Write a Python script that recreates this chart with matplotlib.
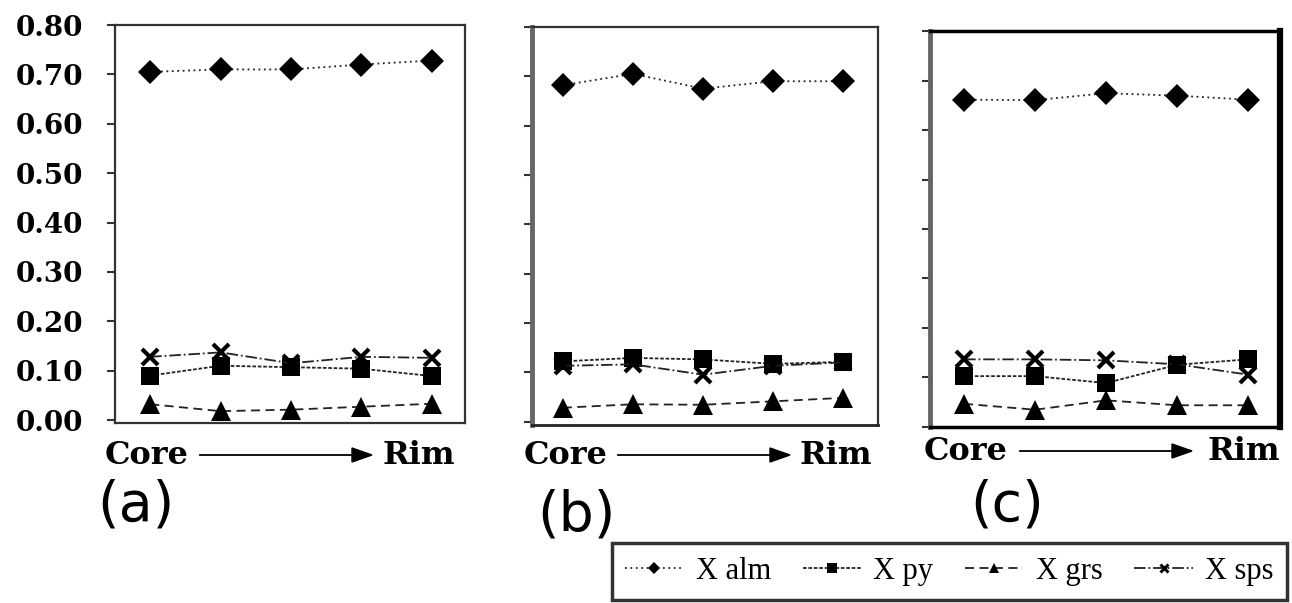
import numpy as np
import matplotlib.pyplot as plt
from matplotlib.lines import Line2D

W, H = 1292, 603

points = np.arange(5)  # analysis points, core -> rim

# panel (a)
alm_a = [0.705, 0.710, 0.710, 0.720, 0.728]
py_a = [0.090, 0.110, 0.107, 0.104, 0.089]
grs_a = [0.032, 0.018, 0.021, 0.027, 0.033]
sps_a = [0.128, 0.137, 0.115, 0.128, 0.126]

# panel (b)
alm_b = [0.682, 0.705, 0.675, 0.690, 0.690]
py_b = [0.122, 0.129, 0.126, 0.117, 0.121]
grs_b = [0.028, 0.035, 0.034, 0.041, 0.048]
sps_b = [0.113, 0.116, 0.095, 0.113, 0.120]

# panel (c)
alm_c = [0.662, 0.661, 0.675, 0.670, 0.662]
py_c = [0.102, 0.102, 0.088, 0.125, 0.136]
grs_c = [0.046, 0.034, 0.053, 0.043, 0.043]
sps_c = [0.136, 0.136, 0.134, 0.126, 0.105]

y_ticks = [0.0, 0.1, 0.2, 0.3, 0.4, 0.5, 0.6, 0.7, 0.8]
y_ticklabels = ['0.00', '0.10', '0.20', '0.30', '0.40', '0.50', '0.60', '0.70', '0.80']

series_names = ['X alm', 'X py', 'X grs', 'X sps']
STYLES = {
    'X alm': dict(marker='D', ms=12, ls=(0, (1, 2)), mew=0),
    'X py': dict(marker='s', ms=13, ls=(0, (2, 1)), mew=0),
    'X grs': dict(marker='^', ms=14, ls=(0, (5, 3)), mew=0),
    'X sps': dict(marker='x', ms=11, ls='-.', mew=3),
}

fig = plt.figure(figsize=(W / 100, H / 100), dpi=100)


def px_axes(left, top, right, bottom):
    return fig.add_axes([left / W, 1 - bottom / H, (right - left) / W, (bottom - top) / H])


def draw_panel(box, xlim, ylim, data, show_labels, spines):
    ax = px_axes(*box)
    for name, vals in zip(series_names, data):
        st = STYLES[name]
        ax.plot(points, vals, color='#222222', lw=1.3, ls=st['ls'],
                marker=st['marker'], ms=st['ms'], mfc='black', mec='black',
                mew=st['mew'])
    ax.set_xlim(*xlim)
    ax.set_ylim(*ylim)
    ax.set_xticks([])
    ax.set_yticks(y_ticks)
    ax.tick_params(axis='y', direction='out', length=6, width=1.5, color='#333333', pad=17)
    if show_labels:
        ax.set_yticklabels(y_ticklabels, family='DejaVu Serif', weight='bold', fontsize=20)
    else:
        ax.set_yticklabels([])
    for side, (lw, col) in spines.items():
        ax.spines[side].set_linewidth(lw)
        ax.spines[side].set_color(col)
    return ax


thin = (1.6, '#333333')
draw_panel((115, 25, 465, 423), (-0.50, 4.47), (-0.006, 0.80),
           [alm_a, py_a, grs_a, sps_a], True,
           {'left': thin, 'right': thin, 'top': thin, 'bottom': thin})
draw_panel((532, 27, 878, 425), (-0.44, 4.50), (-0.007, 0.797),
           [alm_b, py_b, grs_b, sps_b], False,
           {'left': (3.5, '#666666'), 'right': thin, 'top': thin, 'bottom': (2, '#222222')})
draw_panel((930, 31, 1280, 427), (-0.48, 4.45), (-0.001, 0.801),
           [alm_c, py_c, grs_c, sps_c], False,
           {'left': (3.5, '#666666'), 'right': (4.5, 'black'), 'top': (2.5, 'black'),
            'bottom': (2.5, 'black')})


def core_rim(core_x, a0, a1, rim_x, y):
    fy = 1 - y / H
    fig.text(core_x / W, fy, 'Core', family='DejaVu Serif', weight='bold',
             fontsize=23, ha='left', va='center')
    fig.text(rim_x / W, fy, 'Rim', family='DejaVu Serif', weight='bold',
             fontsize=23, ha='right', va='center')
    fig.add_artist(plt.Line2D([a0 / W, (a1 - 18) / W], [fy, fy], color='black', lw=1.3))
    fig.patches.append(plt.Polygon([[(a1 - 20) / W, fy + 7 / H], [a1 / W, fy],
                                    [(a1 - 20) / W, fy - 7 / H]], closed=True,
                                   color='black', transform=fig.transFigure))


core_rim(105, 200, 372, 455, 455)
core_rim(524, 618, 790, 872, 455)
core_rim(924, 1020, 1192, 1280, 451)

for label, x, y in [('(a)', 136, 505), ('(b)', 576, 516), ('(c)', 1007, 505)]:
    fig.text(x / W, 1 - y / H, label, family='DejaVu Sans', fontsize=40,
             ha='center', va='center')

handles = []
for name in series_names:
    st = STYLES[name]
    handles.append(Line2D([], [], color='#222222', lw=1.3, ls=st['ls'],
                          marker=st['marker'], ms=st['ms'] * 0.55, mfc='black',
                          mec='black', mew=st['mew'] * 0.7))
leg = fig.legend(handles, series_names, loc='upper right', ncol=4,
                 bbox_to_anchor=(1287 / W, 1 - 543 / H), frameon=True, fancybox=False,
                 prop={'family': 'Liberation Serif', 'size': 22},
                 handlelength=1.9, handletextpad=0.4, columnspacing=1.05,
                 borderpad=0.45, borderaxespad=0)
leg.get_frame().set_edgecolor('black')
leg.get_frame().set_linewidth(2.5)

fig.savefig('out.png', dpi=100)
